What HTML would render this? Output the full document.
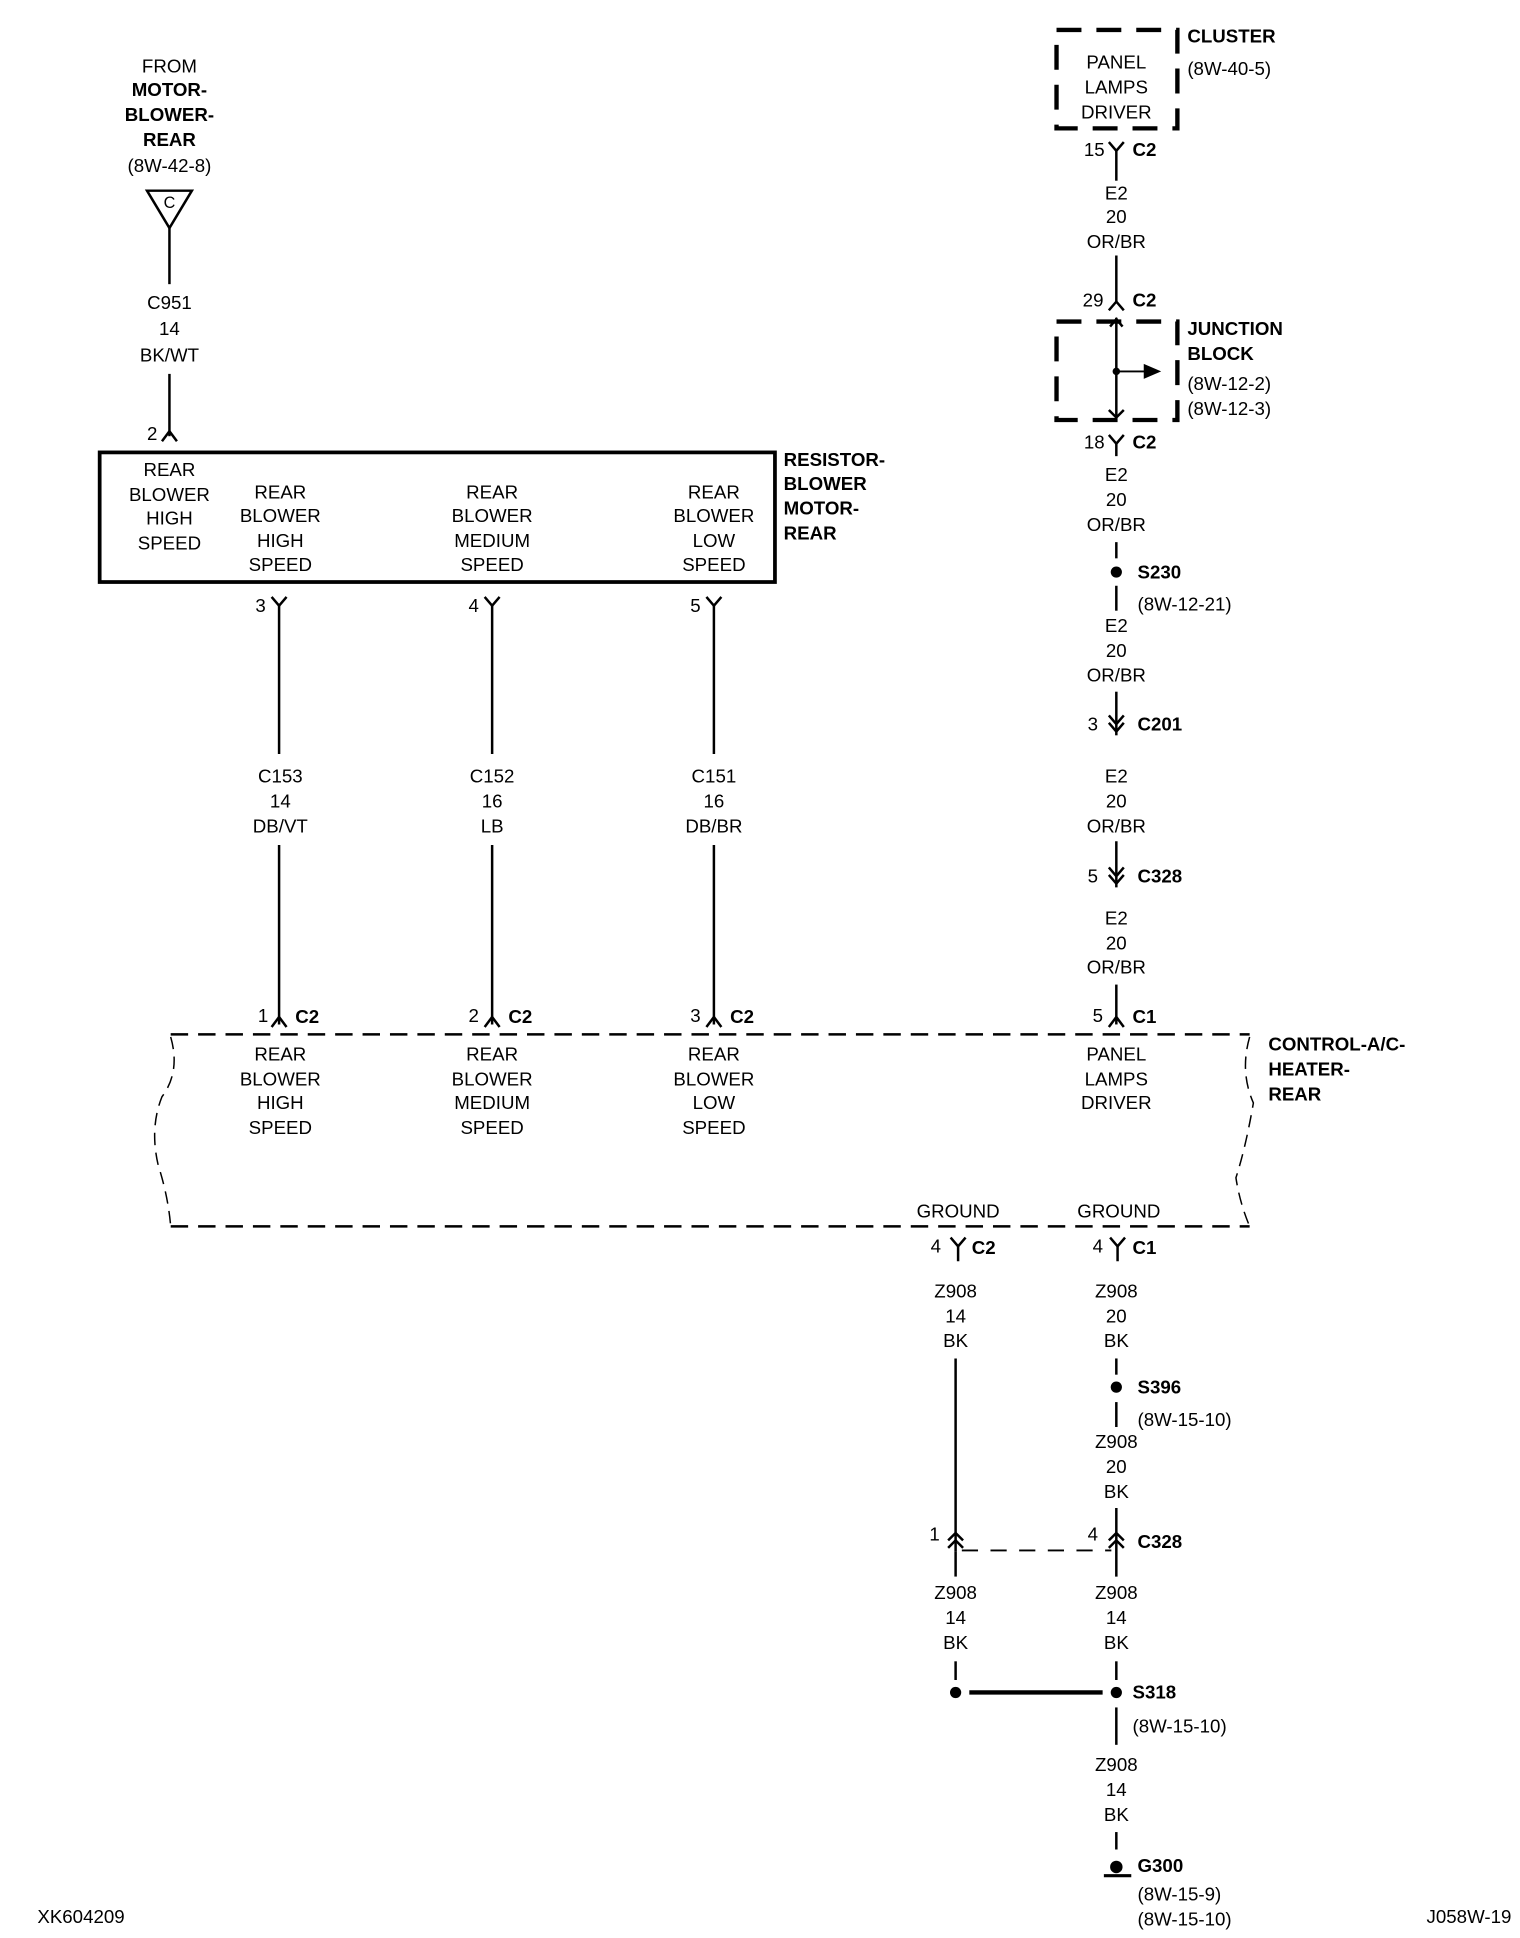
<!DOCTYPE html>
<html><head><meta charset="utf-8"><style>
html,body{margin:0;padding:0;background:#fff}
svg{display:block}
text{font-family:"Liberation Sans Narrow","Liberation Sans",sans-serif;font-size:15px;fill:#000}
.b{font-weight:bold}
.c{text-anchor:middle}
</style></head><body>
<svg width="1520" height="1938" viewBox="0 0 1220 1555" preserveAspectRatio="none" xmlns="http://www.w3.org/2000/svg">
<g stroke="#000" stroke-width="2" fill="none">
<!-- left source -->
<path d="M118,153 L154,153 L136,183 Z"/>
<line x1="136" y1="183" x2="136" y2="228"/>
<line x1="136" y1="300" x2="136" y2="350"/>
<path d="M130,354 L136,346 L142,354"/>
<rect x="80" y="363" width="542" height="104" stroke-width="3"/>
<!-- three wires -->
<g>
<path d="M218,479 L224,486 L230,479"/><line x1="224" y1="486" x2="224" y2="605"/><line x1="224" y1="678" x2="224" y2="822"/><path d="M218,824 L224,816 L230,824"/>
<path d="M389,479 L395,486 L401,479"/><line x1="395" y1="486" x2="395" y2="605"/><line x1="395" y1="678" x2="395" y2="822"/><path d="M389,824 L395,816 L401,824"/>
<path d="M567,479 L573,486 L579,479"/><line x1="573" y1="486" x2="573" y2="605"/><line x1="573" y1="678" x2="573" y2="822"/><path d="M567,824 L573,816 L579,824"/>
</g>
<!-- control dashed box -->
<path d="M137,830 L1003,830" stroke-dasharray="14,8"/>
<path d="M137,984 L1003,984" stroke-dasharray="14,8"/>
<path d="M137,832 Q145,860 130,880 Q120,905 127,935 Q135,960 137,984" stroke-width="1.2" stroke-dasharray="10,6"/>
<path d="M1003,832 Q995,860 1006,885 Q1000,920 992,945 Q995,965 1003,984" stroke-width="1.2" stroke-dasharray="10,6"/>
<!-- top cluster -->
<rect x="848" y="24" width="97" height="79" stroke-width="3.5" stroke-dasharray="20,12"/>
<path d="M890,114 L896,121 L902,114"/><line x1="896" y1="121" x2="896" y2="145"/>
<line x1="896" y1="205" x2="896" y2="242"/><path d="M890,249 L896,242 L902,249"/>
<rect x="848" y="258" width="97" height="79" stroke-width="3.5" stroke-dasharray="20,12"/>
<line x1="896" y1="255" x2="896" y2="335"/>
<path d="M891,262 L896,256 L901,262"/><path d="M890,329 L896,335 L902,329"/>
<line x1="896" y1="298" x2="920" y2="298" stroke-width="1.5"/>
<path d="M890,349 L896,356 L902,349"/><line x1="896" y1="356" x2="896" y2="366"/>
<line x1="896" y1="435" x2="896" y2="448"/>
<line x1="896" y1="470" x2="896" y2="490"/>
<line x1="896" y1="555" x2="896" y2="590"/>
<path d="M890,574 L896,581 L902,574"/><path d="M890,580 L896,587 L902,580"/>
<line x1="896" y1="675" x2="896" y2="712"/>
<path d="M890,696 L896,703 L902,696"/><path d="M890,702 L896,709 L902,702"/>
<line x1="896" y1="790" x2="896" y2="822"/><path d="M890,824 L896,816 L902,824"/>
<!-- grounds -->
<path d="M763,993 L769,1000 L775,993"/><line x1="769" y1="1000" x2="769" y2="1012"/>
<path d="M891,993 L897,1000 L903,993"/><line x1="897" y1="1000" x2="897" y2="1012"/>
<line x1="767" y1="1090" x2="767" y2="1245"/>
<path d="M761,1236 L767,1230 L773,1236"/><path d="M761,1242 L767,1236 L773,1242"/>
<line x1="767" y1="1245" x2="767" y2="1265"/>
<path d="M772,1244 L892,1244" stroke-dasharray="13,10" stroke-width="1.5"/>
<line x1="896" y1="1090" x2="896" y2="1103"/>
<line x1="896" y1="1125" x2="896" y2="1145"/>
<line x1="896" y1="1210" x2="896" y2="1265"/>
<path d="M890,1236 L896,1230 L902,1236"/><path d="M890,1242 L896,1236 L902,1242"/>
<line x1="767" y1="1333" x2="767" y2="1348"/>
<line x1="896" y1="1333" x2="896" y2="1348"/>
<line x1="778" y1="1358" x2="885" y2="1358" stroke-width="3.5"/>
<line x1="896" y1="1370" x2="896" y2="1400"/>
<line x1="896" y1="1470" x2="896" y2="1484"/>
<line x1="886" y1="1505" x2="908" y2="1505" stroke-width="2.5"/>
</g>
<g fill="#000">
<polygon points="918,292 932,298 918,304"/>
<circle cx="896" cy="298" r="3"/>
<circle cx="896" cy="459" r="4.5"/>
<circle cx="896" cy="1113" r="4.5"/>
<circle cx="767" cy="1358" r="4.5"/>
<circle cx="896" cy="1358" r="4.5"/>
<circle cx="896" cy="1498" r="5"/>
</g>
<!-- text -->
<g>
<text class="c" x="136" y="58">FROM</text>
<text class="c b" x="136" y="77">MOTOR-</text>
<text class="c b" x="136" y="97">BLOWER-</text>
<text class="c b" x="136" y="117">REAR</text>
<text class="c" x="136" y="138">(8W-42-8)</text>
<text class="c" x="136" y="167" style="font-size:13px">C</text>
<text class="c" x="136" y="248">C951</text><text class="c" x="136" y="269">14</text><text class="c" x="136" y="290">BK/WT</text>
<text x="118" y="353">2</text>
<text class="c" x="136" y="382">REAR</text><text class="c" x="136" y="402">BLOWER</text><text class="c" x="136" y="421">HIGH</text><text class="c" x="136" y="441">SPEED</text>
<text class="c" x="225" y="400">REAR</text><text class="c" x="225" y="419">BLOWER</text><text class="c" x="225" y="439">HIGH</text><text class="c" x="225" y="458">SPEED</text>
<text class="c" x="395" y="400">REAR</text><text class="c" x="395" y="419">BLOWER</text><text class="c" x="395" y="439">MEDIUM</text><text class="c" x="395" y="458">SPEED</text>
<text class="c" x="573" y="400">REAR</text><text class="c" x="573" y="419">BLOWER</text><text class="c" x="573" y="439">LOW</text><text class="c" x="573" y="458">SPEED</text>
<text class="b" x="629" y="374">RESISTOR-</text><text class="b" x="629" y="393">BLOWER</text><text class="b" x="629" y="413">MOTOR-</text><text class="b" x="629" y="433">REAR</text>
<text x="205" y="491">3</text><text x="376" y="491">4</text><text x="554" y="491">5</text>
<text class="c" x="225" y="628">C153</text><text class="c" x="225" y="648">14</text><text class="c" x="225" y="668">DB/VT</text>
<text class="c" x="395" y="628">C152</text><text class="c" x="395" y="648">16</text><text class="c" x="395" y="668">LB</text>
<text class="c" x="573" y="628">C151</text><text class="c" x="573" y="648">16</text><text class="c" x="573" y="668">DB/BR</text>
<text x="207" y="820">1</text><text class="b" x="237" y="821">C2</text>
<text x="376" y="820">2</text><text class="b" x="408" y="821">C2</text>
<text x="554" y="820">3</text><text class="b" x="586" y="821">C2</text>
<text x="877" y="820">5</text><text class="b" x="909" y="821">C1</text>
<text class="c" x="225" y="851">REAR</text><text class="c" x="225" y="871">BLOWER</text><text class="c" x="225" y="890">HIGH</text><text class="c" x="225" y="910">SPEED</text>
<text class="c" x="395" y="851">REAR</text><text class="c" x="395" y="871">BLOWER</text><text class="c" x="395" y="890">MEDIUM</text><text class="c" x="395" y="910">SPEED</text>
<text class="c" x="573" y="851">REAR</text><text class="c" x="573" y="871">BLOWER</text><text class="c" x="573" y="890">LOW</text><text class="c" x="573" y="910">SPEED</text>
<text class="c" x="896" y="851">PANEL</text><text class="c" x="896" y="871">LAMPS</text><text class="c" x="896" y="890">DRIVER</text>
<text class="b" x="1018" y="843">CONTROL-A/C-</text><text class="b" x="1018" y="863">HEATER-</text><text class="b" x="1018" y="883">REAR</text>
<text class="c" x="769" y="977">GROUND</text><text class="c" x="898" y="977">GROUND</text>
<text x="747" y="1005">4</text><text class="b" x="780" y="1006">C2</text>
<text x="877" y="1005">4</text><text class="b" x="909" y="1006">C1</text>
<text class="c" x="767" y="1041">Z908</text><text class="c" x="767" y="1061">14</text><text class="c" x="767" y="1081">BK</text>
<text class="c" x="896" y="1041">Z908</text><text class="c" x="896" y="1061">20</text><text class="c" x="896" y="1081">BK</text>
<text class="b" x="913" y="1118">S396</text><text x="913" y="1144">(8W-15-10)</text>
<text class="c" x="896" y="1162">Z908</text><text class="c" x="896" y="1182">20</text><text class="c" x="896" y="1202">BK</text>
<text x="746" y="1236">1</text><text x="873" y="1236">4</text><text class="b" x="913" y="1242">C328</text>
<text class="c" x="767" y="1283">Z908</text><text class="c" x="767" y="1303">14</text><text class="c" x="767" y="1323">BK</text>
<text class="c" x="896" y="1283">Z908</text><text class="c" x="896" y="1303">14</text><text class="c" x="896" y="1323">BK</text>
<text class="b" x="909" y="1363">S318</text><text x="909" y="1390">(8W-15-10)</text>
<text class="c" x="896" y="1421">Z908</text><text class="c" x="896" y="1441">14</text><text class="c" x="896" y="1461">BK</text>
<text class="b" x="913" y="1502">G300</text><text x="913" y="1525">(8W-15-9)</text><text x="913" y="1545">(8W-15-10)</text>
<text x="30" y="1543">XK604209</text><text x="1145" y="1543">J058W-19</text>
<text class="c" x="896" y="55">PANEL</text><text class="c" x="896" y="75">LAMPS</text><text class="c" x="896" y="95">DRIVER</text>
<text class="b" x="953" y="34">CLUSTER</text><text x="953" y="60">(8W-40-5)</text>
<text x="870" y="125">15</text><text class="b" x="909" y="125">C2</text>
<text class="c" x="896" y="160">E2</text><text class="c" x="896" y="179">20</text><text class="c" x="896" y="199">OR/BR</text>
<text x="869" y="246">29</text><text class="b" x="909" y="246">C2</text>
<text class="b" x="953" y="269">JUNCTION</text><text class="b" x="953" y="289">BLOCK</text>
<text x="953" y="313">(8W-12-2)</text><text x="953" y="333">(8W-12-3)</text>
<text x="870" y="360">18</text><text class="b" x="909" y="360">C2</text>
<text class="c" x="896" y="386">E2</text><text class="c" x="896" y="406">20</text><text class="c" x="896" y="426">OR/BR</text>
<text class="b" x="913" y="464">S230</text><text x="913" y="490">(8W-12-21)</text>
<text class="c" x="896" y="507">E2</text><text class="c" x="896" y="527">20</text><text class="c" x="896" y="547">OR/BR</text>
<text x="873" y="586">3</text><text class="b" x="913" y="586">C201</text>
<text class="c" x="896" y="628">E2</text><text class="c" x="896" y="648">20</text><text class="c" x="896" y="668">OR/BR</text>
<text x="873" y="708">5</text><text class="b" x="913" y="708">C328</text>
<text class="c" x="896" y="742">E2</text><text class="c" x="896" y="762">20</text><text class="c" x="896" y="781">OR/BR</text>
</g>
</svg>
</body></html>
